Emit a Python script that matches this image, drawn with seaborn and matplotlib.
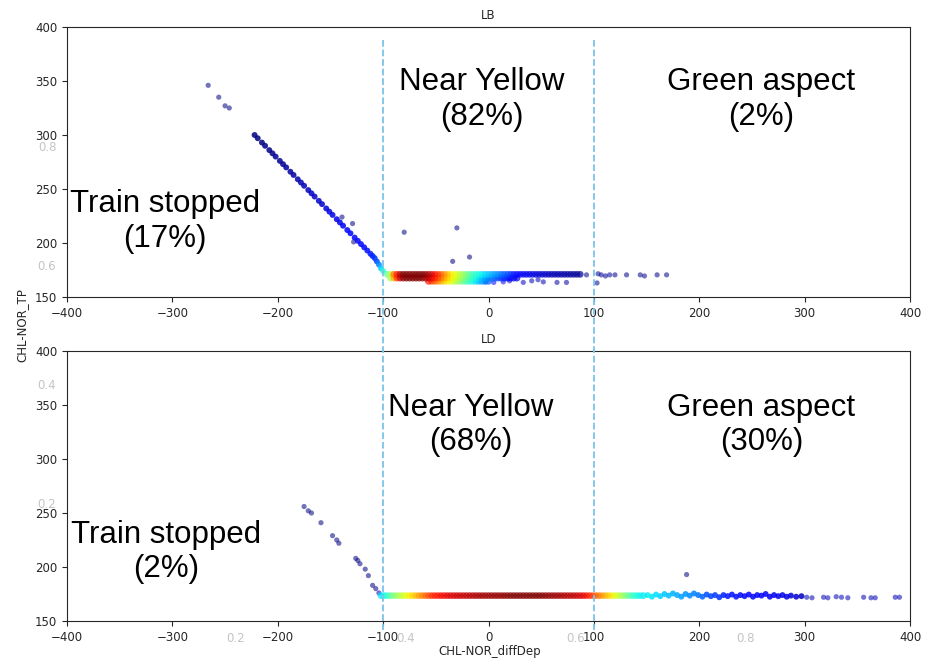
import matplotlib
matplotlib.use("Agg")
import matplotlib.pyplot as plt
from matplotlib.lines import Line2D
from matplotlib.transforms import blended_transform_factory
import seaborn as sns
import pandas as pd

# ---------------- LB : dense horizontal cloud, three rows ----------------
lb_a_y = 171
lb_a_x = [-96, -93, -90, -87, -84, -81, -78, -75, -72, -69, -66, -63,
          -60, -57, -54, -51, -48, -45, -42, -39, -36, -33, -30, -27, -24, -21, -18, -15, -12, -9, -6, -3,
          0, 3, 6, 9, 12, 15, 18, 21, 24, 27, 30, 33, 36, 39, 42, 45, 48, 51, 54, 57, 60, 63, 66, 69, 72, 75, 78, 81, 84, 87]
lb_a_d = [0.45, 0.60, 0.78, 0.88, 0.95, 1.0, 1.0, 1.0, 1.0, 1.0, 1.0, 1.0,
          0.98, 0.95, 0.92, 0.89, 0.85, 0.80, 0.75, 0.70, 0.66, 0.63, 0.60, 0.56, 0.52, 0.48, 0.44, 0.41, 0.39, 0.37, 0.35, 0.33,
          0.31, 0.29, 0.27, 0.25, 0.23, 0.21, 0.19, 0.16, 0.14, 0.12, 0.11, 0.10, 0.09, 0.09, 0.08, 0.08, 0.07, 0.07, 0.06, 0.05,
          0.05, 0.04, 0.04, 0.04, 0.03, 0.03, 0.03, 0.02, 0.02, 0.02]

lb_b_y = 167.5
lb_b_x = [-93, -90, -87, -84, -81, -78, -75, -72, -69, -66, -63, -60, -57, -54, -51, -48, -45, -42, -39, -36,
          -33, -30, -27, -24, -21, -18, -15, -12, -9, -6, -3, 0, 3, 6, 9, 12, 15, 18, 21, 24, 27]
lb_b_d = [0.55, 0.72, 0.85, 0.93, 0.98, 1.0, 1.0, 1.0, 1.0, 1.0, 0.98, 0.96, 0.93, 0.90, 0.87, 0.83, 0.78, 0.73, 0.69, 0.65,
          0.62, 0.58, 0.54, 0.50, 0.46, 0.42, 0.39, 0.36, 0.33, 0.30, 0.27, 0.25, 0.23, 0.21, 0.19, 0.17, 0.15, 0.13, 0.11, 0.10, 0.09]

lb_c_y = 164.5
lb_c_x = [-57, -54, -51, -48, -45, -42, -39, -36, -33, -30, -27, -24, -21, -18, -15, -12, -9, -6, -3, 0]
lb_c_d = [0.88, 0.84, 0.80, 0.76, 0.72, 0.68, 0.65, 0.62, 0.58, 0.54, 0.50, 0.46, 0.42, 0.39, 0.36, 0.33, 0.30, 0.27, 0.25, 0.22]

# LB : the diagonal run down to the band
lb_trail_x = [-222, -219, -215, -212, -208, -205, -202, -198, -195, -192, -188, -185, -181, -178, -175, -171, -168, -165, -161, -158,
              -154, -151, -148, -144, -141, -138, -134, -131, -127, -124, -121, -118, -115, -112, -110, -108, -106, -104, -102, -100]
lb_trail_y = [300, 297, 293, 290, 286, 283, 280, 276, 273, 270, 266, 263, 259, 256, 253, 249, 246, 243, 239, 236,
              232, 229, 226, 222, 219, 216, 212, 209, 205, 202, 199, 196, 193, 190, 188, 186, 183, 180, 176.5, 174]
lb_trail_d = [0, 0, 0, 0.01, 0.01, 0.01, 0.02, 0.02, 0.02, 0.03, 0.03, 0.03, 0.04, 0.04, 0.05, 0.05, 0.06, 0.06, 0.07, 0.07,
              0.08, 0.08, 0.09, 0.09, 0.10, 0.10, 0.11, 0.11, 0.12, 0.12, 0.13, 0.13, 0.14, 0.15, 0.16, 0.17, 0.20, 0.26, 0.33, 0.40]

# LB : isolated points (stragglers, outliers, lower scatter, right tail)
lb_dot_x = [-266, -256, -250, -246,
            -139, -129, -128, -80, -30, -34, -18,
            -3, 5, 14, 20, 33, 41, 47, 52, 65, 74,
            93, 103, 104, 107, 111, 115, 120, 131, 144, 148, 160, 169]
lb_dot_y = [346, 335, 327, 325,
            224, 218, 201, 210, 214, 183, 187,
            164, 163.5, 164, 165, 163.5, 165, 166, 164, 163.5, 163.5,
            170.5, 163, 171.5, 170.5, 169.5, 170.5, 170.5, 170.5, 170.5, 169.5, 170.5, 170.5]
lb_dot_d = [0, 0, 0, 0,
            0, 0, 0, 0, 0, 0, 0,
            0.15, 0.12, 0.10, 0.08, 0.06, 0.05, 0.05, 0.04, 0.03, 0.03,
            0.02, 0.01, 0.02, 0.02, 0.02, 0.02, 0.02, 0.01, 0.01, 0.01, 0.01, 0.01]

# ---------------- LD : dense horizontal cloud ----------------
ld_a_y = 173.5
ld_a_x = [-102, -99, -96, -93, -90, -87, -84, -81, -78, -75, -72, -69, -66, -63, -60, -57, -54,
          -51, -48, -45, -42, -39, -36, -33, -30, -27, -24, -21, -18, -15, -12, -9, -6, -3,
          0, 3, 6, 9, 12, 15, 18, 21, 24, 27, 30, 33, 36, 39, 42, 45, 48,
          51, 54, 57, 60, 63, 66, 69, 72, 75, 78, 81, 84, 87, 90, 93, 96, 99,
          102, 105, 108, 111, 114, 117, 120, 123, 126, 129, 132, 135, 138, 141, 144, 147]
ld_a_d = [0.35, 0.36, 0.40, 0.45, 0.50, 0.53, 0.57, 0.60, 0.63, 0.66, 0.68, 0.71, 0.74, 0.77, 0.80, 0.83, 0.86,
          0.88, 0.89, 0.90, 0.90, 0.91, 0.92, 0.92, 0.93, 0.93, 0.94, 0.94, 0.95, 0.95, 0.96, 0.96, 0.97, 0.97,
          0.97, 0.98, 0.98, 0.98, 0.98, 0.99, 0.99, 1.0, 1.0, 1.0, 1.0, 1.0, 1.0, 1.0, 1.0, 1.0, 1.0,
          0.99, 0.99, 0.98, 0.98, 0.97, 0.97, 0.96, 0.96, 0.95, 0.95, 0.94, 0.93, 0.92, 0.91, 0.89, 0.86, 0.83,
          0.80, 0.77, 0.74, 0.71, 0.68, 0.65, 0.62, 0.58, 0.54, 0.50, 0.46, 0.42, 0.39, 0.37, 0.36, 0.35]

# LD : ragged tail of the band on the right
ld_trail_x = [151, 155, 159, 163, 167, 171, 175, 179, 183, 187, 191, 195, 199, 203, 207, 211, 215, 219,
              223, 227, 231, 235, 239, 243, 247, 251, 255, 259, 263, 267, 271, 275, 279, 283, 287, 292, 297]
ld_trail_y = [174, 172.5, 174.5, 173, 175, 173.5, 175.5, 174, 172.5, 175, 173.5, 175.5, 174, 172.5, 174.5, 173, 174, 172,
              174, 173, 174.5, 172.5, 174, 173, 174.5, 172.5, 174, 173.5, 175, 172.5, 174, 173, 174, 172.5, 173.5, 172.5, 173]
ld_trail_d = [0.36, 0.35, 0.34, 0.33, 0.32, 0.31, 0.30, 0.29, 0.28, 0.27, 0.26, 0.25, 0.24, 0.22, 0.20, 0.19, 0.18, 0.17,
              0.16, 0.15, 0.14, 0.14, 0.13, 0.13, 0.12, 0.12, 0.11, 0.11, 0.11, 0.10, 0.10, 0.10, 0.09, 0.09, 0.08, 0.07, 0.06]

# LD : isolated points (sparse diagonal, outlier, far right)
ld_dot_x = [-175, -171, -168, -159, -148, -144, -142, -126, -124, -122, -117, -114, -110, -107, -104,
            188,
            302, 307, 318, 322, 330, 335, 341, 356, 363, 367, 386, 390]
ld_dot_y = [256, 252, 250, 241, 229, 225, 222, 208, 206, 203, 198, 192, 183, 180, 176,
            193,
            172, 171.5, 172, 171.5, 172.5, 172, 171.5, 172, 171.5, 171.5, 172, 172]
ld_dot_d = [0, 0, 0, 0, 0, 0, 0, 0, 0, 0, 0, 0, 0, 0, 0.05,
            0,
            0.05, 0.05, 0.05, 0.05, 0.05, 0.05, 0.05, 0.05, 0.05, 0.05, 0.05, 0.05]

regions = ["Train stopped", "Near Yellow", "Green aspect"]
lb_share = ["(17%)", "(82%)", "(2%)"]
ld_share = ["(2%)", "(68%)", "(30%)"]
x_ticks = [-400, -300, -200, -100, 0, 100, 200, 300, 400]
y_ticks = [150, 200, 250, 300, 350, 400]
limits = [-100, 100]

sns.set_style("ticks")
plt.rcParams['font.family'] = ['DejaVu Sans']
jet = matplotlib.colormaps["jet"]


def frame(x, y, d):
    return pd.DataFrame({"x": x, "y": y, "d": d}).sort_values("d")


lb_cloud = pd.concat([
    pd.DataFrame({"x": lb_a_x, "y": lb_a_y, "d": lb_a_d}),
    pd.DataFrame({"x": lb_b_x, "y": lb_b_y, "d": lb_b_d}),
    pd.DataFrame({"x": lb_c_x, "y": lb_c_y, "d": lb_c_d}),
]).sort_values("d")
ld_cloud = frame(ld_a_x, ld_a_y, ld_a_d)

fig = plt.figure(figsize=(9.34, 6.62), dpi=100)

# frameless background axes carrying the shared labels
bg = fig.add_axes([66 / 934, 1 - 622 / 662, 849 / 934, 595 / 662], frameon=False)
bg.set_xlim(0, 1)
bg.set_ylim(0, 1)
bg.set_xticks([0.2, 0.4, 0.6, 0.8])
bg.set_yticks([0.2, 0.4, 0.6, 0.8])
bg.tick_params(length=0, colors='#c4c4c4', labelsize=8.5, pad=7)
fig.text(490 / 934, 1 - 652 / 662, "CHL-NOR_diffDep", ha='center', va='center', fontsize=8.5, color='#262626')
fig.text(22 / 934, 1 - 325 / 662, "CHL-NOR_TP", ha='center', va='center', rotation=90, fontsize=8.5, color='#262626')

ax1 = fig.add_axes([67 / 934, 1 - 297 / 662, 843 / 934, 270 / 662])
ax2 = fig.add_axes([67 / 934, 1 - 621 / 662, 843 / 934, 270 / 662])

panels = [
    (ax1, "LB", frame(lb_dot_x, lb_dot_y, lb_dot_d), frame(lb_trail_x, lb_trail_y, lb_trail_d), lb_cloud,
     lb_share, [(-307, 220), (-6, 333), (259, 333)]),
    (ax2, "LD", frame(ld_dot_x, ld_dot_y, ld_dot_d), frame(ld_trail_x, ld_trail_y, ld_trail_d), ld_cloud,
     ld_share, [(-306, 214), (-17, 331.5), (259, 331.5)]),
]
for ax, title, dots, trail, cloud, share, pos in panels:
    sns.scatterplot(data=dots, x="x", y="y", hue="d", palette=jet, hue_norm=(0, 1),
                    s=14, alpha=0.55, linewidth=0, legend=False, ax=ax)
    sns.scatterplot(data=trail, x="x", y="y", hue="d", palette=jet, hue_norm=(0, 1),
                    s=18, alpha=0.85, linewidth=0, legend=False, ax=ax)
    sns.scatterplot(data=cloud, x="x", y="y", hue="d", palette=jet, hue_norm=(0, 1),
                    s=24, alpha=0.7, linewidth=0, legend=False, ax=ax)
    ax.set_xlim(-400, 400)
    ax.set_ylim(150, 400)
    ax.set_xticks(x_ticks)
    ax.set_yticks(y_ticks)
    ax.set(xlabel="", ylabel="")
    ax.tick_params(labelsize=8.5, length=3.5)
    ax.set_title(title, fontsize=8.5, pad=6)
    for name, pct, (tx, ty) in zip(regions, share, pos):
        ax.text(tx, ty, name + "\n" + pct, ha='center', va='center', fontsize=22.5,
                family='Liberation Sans', linespacing=1.2, color='black')

# dashed limits spanning both panels
trans = blended_transform_factory(ax1.transData, fig.transFigure)
for xv in limits:
    fig.add_artist(Line2D([xv, xv], [1 - 40 / 662, 1 - 630 / 662], transform=trans,
                          color='#7cc3ea', linestyle='--', linewidth=1.3, zorder=5))

fig.savefig("out.png", dpi=100)
